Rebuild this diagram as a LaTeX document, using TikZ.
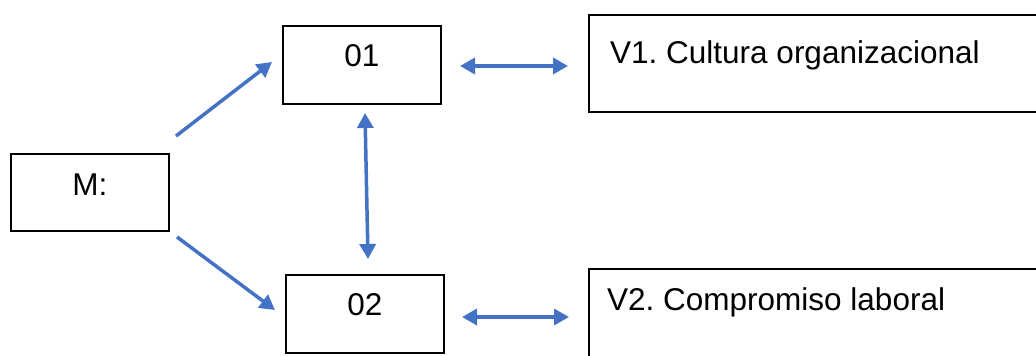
\documentclass[tikz,border=0pt]{standalone}
\usepackage{fontspec}
\setmainfont{Liberation Sans}
\usetikzlibrary{arrows.meta}
\definecolor{arrowblue}{HTML}{4472C4}
\frenchspacing
\begin{document}
\begin{tikzpicture}[x=1pt,y=-1pt,
  box/.style={draw=black, line width=1.6pt, inner sep=0pt, anchor=north west,
    font=\fontsize{31.5}{38}\selectfont},
  lbl/.style={inner sep=0pt, anchor=base west, font=\fontsize{31.5}{38}\selectfont},
  conn/.style={draw=arrowblue, line width=3.5pt, -{Triangle[length=15pt,width=16pt]}},
  biconn/.style={draw=arrowblue, line width=3.5pt,
    {Triangle[length=15pt,width=16pt]}-{Triangle[length=15pt,width=16pt]}}]
\useasboundingbox (0,0) rectangle (1036,356);
\clip (0,0) rectangle (1036,356);

\node[box, minimum width=158pt, text height=42pt, text depth=35pt] (m) at (10,153) {M:};
\node[box, minimum width=158pt, text height=41pt, text depth=37pt] (o1) at (282,25) {01};
\node[box, minimum width=158pt, text height=41pt, text depth=37pt] (o2) at (285,274) {02};
\node[box, minimum width=480pt, minimum height=97pt] (v1) at (588,14) {};
\node[box, minimum width=480pt, minimum height=95pt] (v2) at (588,268) {};
\node[lbl] (v1t) at (610,63) {V1. Cultura organizacional};
\node[lbl] (v2t) at (607,310) {V2. Compromiso laboral};

\coordinate (a1s) at (176,136);
\coordinate (a1e) at (272,62);
\coordinate (a2s) at (177,237);
\coordinate (a2e) at (275,310);
\coordinate (b1s) at (460,66);
\coordinate (b1e) at (568,66);
\coordinate (b2s) at (462,317);
\coordinate (b2e) at (569,317);
\coordinate (cs) at (365,113);
\coordinate (ce) at (368,259);

\draw[conn] (a1s) -- (a1e);
\draw[conn] (a2s) -- (a2e);
\draw[biconn] (b1s) -- (b1e);
\draw[biconn] (b2s) -- (b2e);
\draw[biconn] (cs) -- (ce);
\end{tikzpicture}
\end{document}
